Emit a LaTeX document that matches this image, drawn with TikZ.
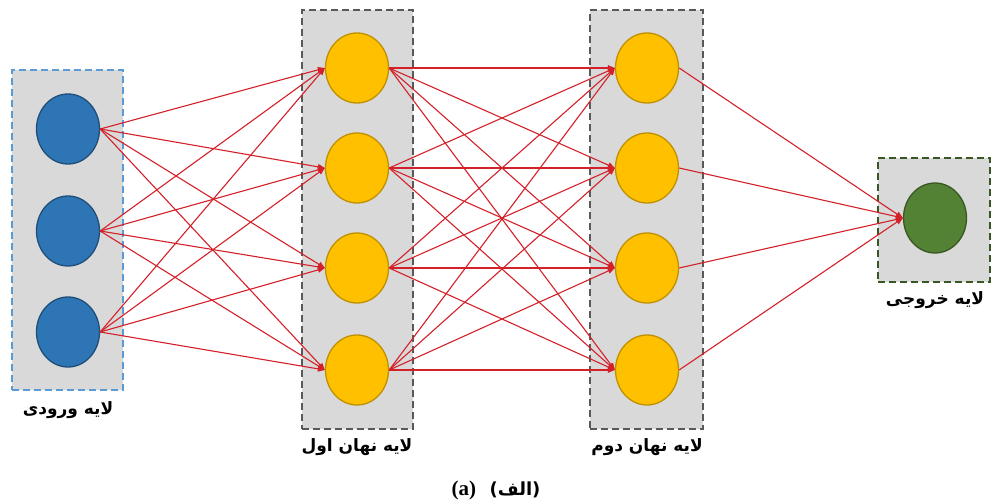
\documentclass[tikz,border=0pt]{standalone}
\usepackage{fontspec}
\usetikzlibrary{shapes.geometric,arrows.meta}
\TeXXeTstate=1
\newfontfamily\arabicfont[Script=Arabic]{DejaVu Sans}
\newfontfamily\capfont{Liberation Serif}
\definecolor{boxgray}{HTML}{D9D9D9}
\definecolor{inblue}{HTML}{2E75B6}
\definecolor{inblueb}{HTML}{1F4E79}
\definecolor{inboxb}{HTML}{5B9BD5}
\definecolor{hidy}{HTML}{FFC000}
\definecolor{hidyb}{HTML}{BF9000}
\definecolor{outg}{HTML}{548235}
\definecolor{outgb}{HTML}{385723}
\definecolor{grayb}{HTML}{595959}
\definecolor{edgered}{HTML}{D42028}
\begin{document}
\begin{tikzpicture}[x=1pt,y=-1pt,
  layerbox/.style={fill=boxgray,line width=2pt,dash pattern=on 7pt off 4pt},
  neuron/.style={ellipse,minimum width=63pt,minimum height=70pt,inner sep=0pt,line width=1.3pt},
  inneuron/.style={neuron,fill=inblue,draw=inblueb},
  hidneuron/.style={neuron,fill=hidy,draw=hidyb},
  outneuron/.style={neuron,fill=outg,draw=outgb},
  conn/.style={draw=edgered,line width=1.1pt,-{Triangle[length=7pt,width=5.5pt]}},
  lbl/.style={font=\arabicfont\bfseries\fontsize{17}{20}\selectfont,inner sep=0pt}
]
\useasboundingbox (0,0) rectangle (992,502);
% layer boxes
\node[layerbox,draw=inboxb,minimum width=111pt,minimum height=320pt,inner sep=0pt] (boxin) at (67.5,230) {};
\node[layerbox,draw=grayb,minimum width=111pt,minimum height=419pt,inner sep=0pt] (boxh1) at (357,219.5) {};
\node[layerbox,draw=grayb,minimum width=113pt,minimum height=419pt,inner sep=0pt] (boxh2) at (646,219.5) {};
\node[layerbox,draw=outgb,minimum width=112pt,minimum height=124pt,inner sep=0pt] (boxout) at (934,220) {};
% neurons
\node[inneuron] (i1) at (68,129) {};
\node[inneuron] (i2) at (68,231) {};
\node[inneuron] (i3) at (68,332) {};
\foreach \n/\y in {1/68,2/168,3/268,4/370}{
  \node[hidneuron] (a\n) at (357,\y) {};
  \node[hidneuron] (b\n) at (647,\y) {};
}
\node[outneuron] (o) at (935,218) {};
% connections
\foreach \s in {1,2,3}{\foreach \t in {1,2,3,4}{\draw[conn] (i\s.east) -- (a\t.west);}}
\foreach \s in {1,2,3,4}{\foreach \t in {1,2,3,4}{\draw[conn] (a\s.east) -- (b\t.west);}}
\foreach \s in {1,2,3,4}{\draw[conn] (b\s.east) -- (o.west);}
% labels
\node[lbl] (lin) at (68,410) {\beginR لایه ورودی\endR};
\node[lbl] (lh1) at (357,447) {\beginR لایه نهان اول\endR};
\node[lbl] (lh2) at (647,447) {\beginR لایه نهان دوم\endR};
\node[lbl] (lout) at (935,300) {\beginR لایه خروجی\endR};
\node[inner sep=0pt,font=\bfseries\fontsize{18}{20}\selectfont] (cap) at (496,490) {{\capfont\fontsize{21}{22}\selectfont (a)}\ \ {\arabicfont\beginR(الف)\endR}};
\end{tikzpicture}
\end{document}
